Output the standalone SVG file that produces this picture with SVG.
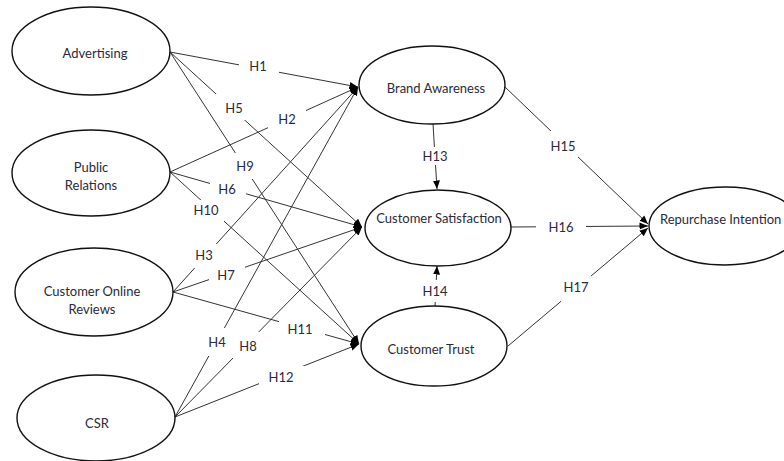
<svg xmlns="http://www.w3.org/2000/svg" width="784" height="461" viewBox="0 0 784 461">
  <style>
    .node ellipse { fill: #ffffff; stroke: #111111; stroke-width: 1.4; }
    .node text, .lbl text { font-family: Lato, "Liberation Sans", sans-serif; font-size: 13px; fill: #2a2a3a; text-anchor: middle; dominant-baseline: central; }
    .edge { stroke: #333333; stroke-width: 1; fill: none; marker-end: url(#arrow); }
    .lbl rect { fill: #ffffff; stroke: none; }
  </style>
  <defs>
    <marker id="arrow" markerUnits="userSpaceOnUse" markerWidth="10" markerHeight="9" refX="8.5" refY="4.5" orient="auto">
      <path d="M0,1 L8.5,4.5 L0,8 Z" fill="#000000"/>
    </marker>
  </defs>

  <!-- connectors -->
  <g id="connectors">
    <line class="edge" x1="170" y1="52" x2="358" y2="87"/>
    <line class="edge" x1="170" y1="52" x2="362" y2="227"/>
    <line class="edge" x1="170" y1="52" x2="359" y2="344"/>
    <line class="edge" x1="170" y1="172" x2="358" y2="87"/>
    <line class="edge" x1="170" y1="172" x2="362" y2="227"/>
    <line class="edge" x1="170" y1="172" x2="359" y2="344"/>
    <line class="edge" x1="173" y1="292" x2="358" y2="87"/>
    <line class="edge" x1="173" y1="292" x2="362" y2="227"/>
    <line class="edge" x1="173" y1="292" x2="359" y2="344"/>
    <line class="edge" x1="175" y1="417" x2="358" y2="87"/>
    <line class="edge" x1="175" y1="417" x2="362" y2="227"/>
    <line class="edge" x1="175" y1="417" x2="359" y2="344"/>
    <line class="edge" x1="433" y1="124" x2="437" y2="189"/>
    <line class="edge" x1="435" y1="306" x2="437" y2="266"/>
    <line class="edge" x1="505" y1="87" x2="648" y2="224"/>
    <line class="edge" x1="511" y1="227" x2="648" y2="226"/>
    <line class="edge" x1="508" y1="346" x2="648" y2="228"/>
  </g>

  <!-- hypothesis labels -->
  <g class="lbl">
    <rect x="239" y="57" width="40" height="19"/><text x="258" y="66">H1</text>
    <rect x="268" y="108" width="38" height="22"/><text x="287" y="119">H2</text>
    <rect x="186" y="244" width="36" height="24"/><text x="204" y="255">H3</text>
    <rect x="203" y="328" width="30" height="28"/><text x="217" y="342">H4</text>
    <rect x="216" y="94" width="34" height="26"/><text x="234" y="108">H5</text>
    <rect x="210" y="179" width="36" height="20"/><text x="227" y="189">H6</text>
    <rect x="209" y="265" width="36" height="20"/><text x="226" y="275">H7</text>
    <rect x="233" y="332" width="30" height="28"/><text x="248" y="346">H8</text>
    <rect x="232" y="153" width="28" height="26"/><text x="245" y="166">H9</text>
    <rect x="192" y="200" width="32" height="22"/><text x="206" y="210">H10</text>
    <rect x="279" y="318" width="46" height="20"/><text x="300" y="329">H11</text>
    <rect x="259" y="366" width="50" height="22"/><text x="281" y="377">H12</text>
    <rect x="420" y="147" width="30" height="18"/><text x="435" y="156">H13</text>
    <rect x="420" y="280" width="30" height="22"/><text x="435" y="291">H14</text>
    <rect x="548" y="131" width="30" height="30"/><text x="563" y="146">H15</text>
    <rect x="536" y="218" width="50" height="18"/><text x="561" y="227">H16</text>
    <rect x="561" y="271" width="30" height="32"/><text x="576" y="287">H17</text>
  </g>

  <!-- constructs -->
  <g id="advertising" class="node">
    <ellipse cx="91" cy="51" rx="79" ry="44"/>
    <text x="95" y="53">Advertising</text>
  </g>
  <g id="public-relations" class="node">
    <ellipse cx="91" cy="173" rx="79" ry="43"/>
    <text x="91" y="167">Public</text>
    <text x="91" y="185">Relations</text>
  </g>
  <g id="customer-online-reviews" class="node">
    <ellipse cx="94" cy="292" rx="79" ry="44"/>
    <text x="92" y="291">Customer Online</text>
    <text x="92" y="309">Reviews</text>
  </g>
  <g id="csr" class="node">
    <ellipse cx="96" cy="418" rx="79" ry="43"/>
    <text x="97" y="423">CSR</text>
  </g>
  <g id="brand-awareness" class="node">
    <ellipse cx="432" cy="85" rx="73" ry="39"/>
    <text x="436" y="88">Brand Awareness</text>
  </g>
  <g id="customer-satisfaction" class="node">
    <ellipse cx="438" cy="228" rx="73" ry="38"/>
    <text x="439" y="218">Customer Satisfaction</text>
  </g>
  <g id="customer-trust" class="node">
    <ellipse cx="434" cy="346" rx="73" ry="40"/>
    <text x="431" y="349">Customer Trust</text>
  </g>
  <g id="repurchase-intention" class="node">
    <ellipse cx="725" cy="226" rx="76" ry="39"/>
    <text x="660" y="219" style="text-anchor:start">Repurchase Intention</text>
  </g>
</svg>
